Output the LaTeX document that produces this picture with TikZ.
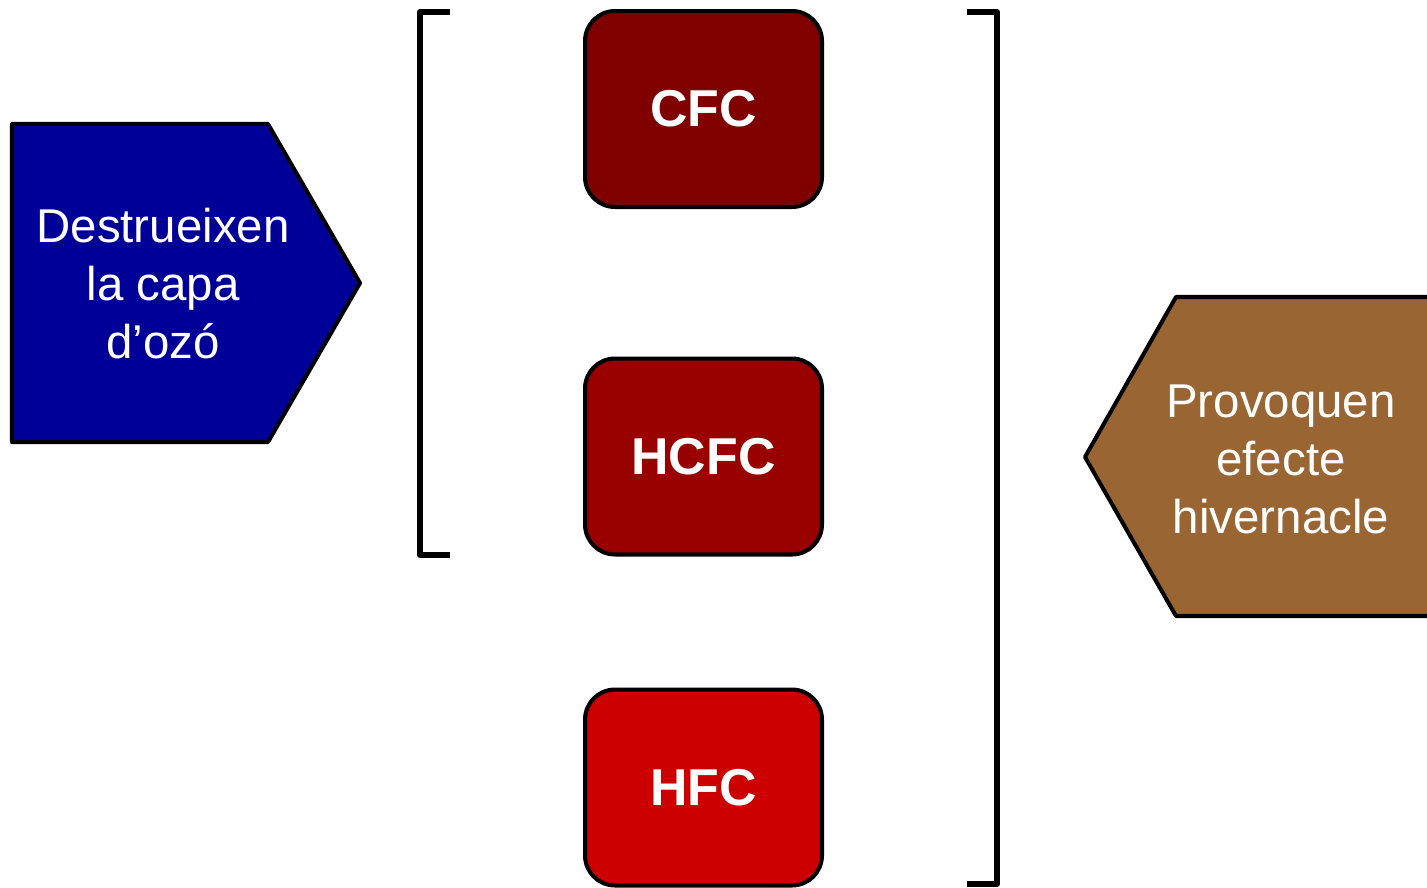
\documentclass[tikz,border=0pt]{standalone}
\usepackage{fontspec}
\setmainfont{Liberation Sans}
\definecolor{ozoneblue}{HTML}{000099}
\definecolor{gasone}{HTML}{800000}
\definecolor{gastwo}{HTML}{990000}
\definecolor{gasthree}{HTML}{CC0000}
\definecolor{greenbrown}{HTML}{996633}
\tikzset{
  gasbox/.style={draw=black, line width=2.3pt, rounded corners=0.6cm,
    minimum width=4.74cm, minimum height=3.92cm, text=white,
    font=\fontsize{29.5}{34}\selectfont\bfseries},
  tagtext/.style={text=white, align=center, font=\fontsize{27}{33}\selectfont},
  tagshape/.style={draw=black, line width=2.3pt, line join=round},
  bracketline/.style={line width=3.4pt, line join=round}
}
\begin{document}
\begin{tikzpicture}[x=0.02cm, y=-0.02cm]
\useasboundingbox (0,0) rectangle (1427,887);
\clip (0,0) rectangle (1427,887);

% --- Left tag ---
\draw[tagshape, fill=ozoneblue] (12,124) -- (268,124) -- (360,283) -- (268,442) -- (12,442) -- cycle;
\node[tagtext] (ozone) at (163,284) {Destrueixen\\la capa\\d’ozó};

% --- Brackets ---
\coordinate (lbtop) at (450,12);
\coordinate (lbbot) at (450,555);
\coordinate (rbtop) at (967,12);
\coordinate (rbbot) at (967,884);
\draw[bracketline] (lbtop) -- (420,12) -- (420,555) -- (lbbot);
\draw[bracketline] (rbtop) -- (997,12) -- (997,884) -- (rbbot);

% --- Gas boxes ---
\node[gasbox, fill=gasone] (cfc) at (703.5,109) {CFC};
\node[gasbox, fill=gastwo] (hcfc) at (703.5,456.5) {HCFC};
\node[gasbox, fill=gasthree] (hfc) at (703.5,787.5) {HFC};

% --- Right tag ---
\draw[tagshape, fill=greenbrown] (1450,297) -- (1176,297) -- (1085,457) -- (1176,616) -- (1450,616) -- cycle;
\node[tagtext] (warming) at (1281,459) {Provoquen\\efecte\\hivernacle};

\end{tikzpicture}
\end{document}
